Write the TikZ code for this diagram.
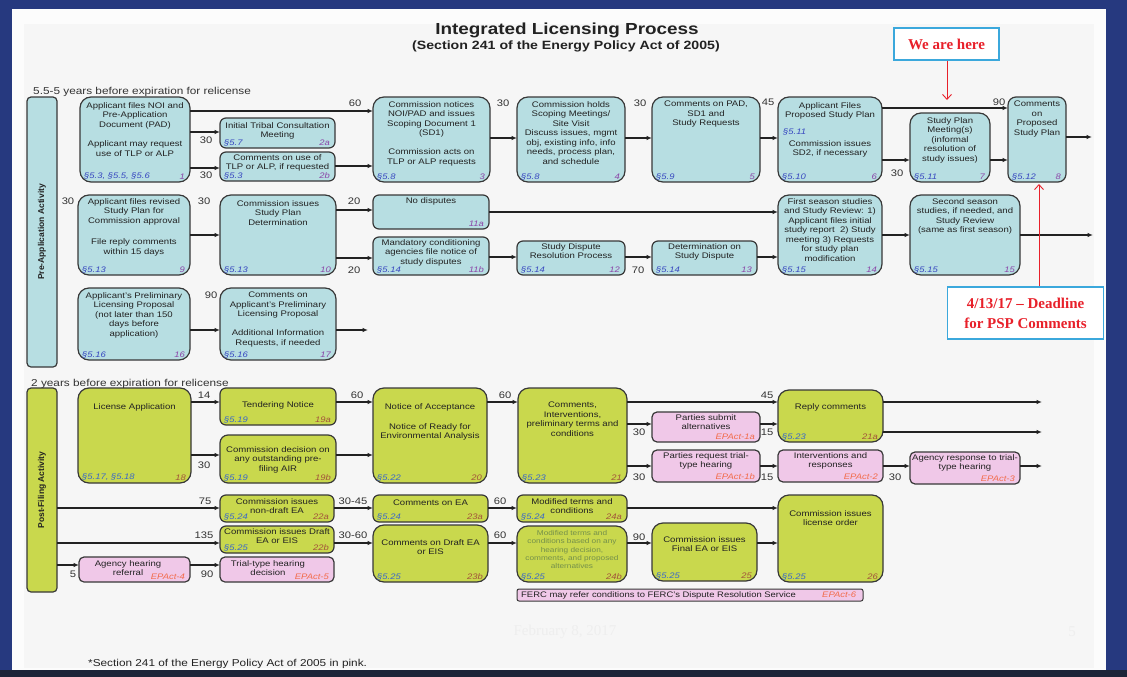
\documentclass[tikz,border=0pt]{standalone}
\usepackage{fontspec}
\setmainfont[FakeStretch=1.18]{Liberation Sans}
\newfontfamily\plainsans{Liberation Sans}
\newfontfamily\serifr{Liberation Serif}
\usetikzlibrary{arrows.meta}
\definecolor{navy}{HTML}{26397F}
\definecolor{navydark}{HTML}{1C2438}
\definecolor{panelA}{HTML}{FCFCFC}
\definecolor{panelB}{HTML}{F6F6F6}
\definecolor{boxblue}{HTML}{B7DEE2}
\definecolor{boxgreen}{HTML}{C9D84D}
\definecolor{boxpink}{HTML}{F0C8E8}
\definecolor{boxline}{HTML}{383838}
\definecolor{txtdark}{HTML}{222222}
\definecolor{refblue}{HTML}{3848C0}
\definecolor{refgreen}{HTML}{3A68C8}
\definecolor{numpurple}{HTML}{8B46A8}
\definecolor{numbrown}{HTML}{A2553A}
\definecolor{epact}{HTML}{F26B4A}
\definecolor{lblgrey}{HTML}{333333}
\definecolor{calloutred}{HTML}{E8202A}
\definecolor{calloutblue}{HTML}{3BA8DC}
\definecolor{smallgreen}{HTML}{74904A}
\definecolor{faint}{HTML}{EEEEEE}

\newcommand{\ilbox}[8]{%
  \node[#2, anchor=north west, minimum width={#5pt-#3pt}, minimum height={#6pt-#4pt}] (#1) at (#3,#4) {};
  \node[#2ref, anchor=south west] (#1-r) at ([shift={(4pt,2pt)}]#1.south west) {#7};
  \node[#2num, anchor=south east] (#1-n) at ([shift={(-5pt,2pt)}]#1.south east) {#8};
}
\newcommand{\iltext}[3]{%
  \node[btxt, anchor=north] (#1-t) at ([yshift=-#2pt]#1.north) {#3};
}

\begin{document}
\begin{tikzpicture}[x=1pt,y=-1pt,
  box/.style={draw=boxline, line width=1.2pt, inner sep=0pt, outer sep=0pt},
  bbox/.style={box, fill=boxblue, rounded corners=11pt},
  bboxm/.style={box, fill=boxblue, rounded corners=8pt},
  bboxs/.style={box, fill=boxblue, rounded corners=6pt},
  gbox/.style={box, fill=boxgreen, rounded corners=11pt},
  gboxm/.style={box, fill=boxgreen, rounded corners=8pt},
  gboxs/.style={box, fill=boxgreen, rounded corners=6pt},
  pbox/.style={box, fill=boxpink, rounded corners=5pt},
  refst/.style={inner sep=0pt, font=\fontsize{8}{9}\selectfont\itshape},
  bboxref/.style={refst, text=refblue},
  bboxmref/.style={refst, text=refblue},
  bboxsref/.style={refst, text=refblue},
  gboxref/.style={refst, text=refgreen},
  gboxmref/.style={refst, text=refgreen},
  gboxsref/.style={refst, text=refgreen},
  pboxref/.style={refst},
  bboxnum/.style={refst, text=numpurple},
  bboxmnum/.style={refst, text=numpurple},
  bboxsnum/.style={refst, text=numpurple},
  gboxnum/.style={refst, text=numbrown},
  gboxmnum/.style={refst, text=numbrown},
  gboxsnum/.style={refst, text=numbrown},
  pboxnum/.style={refst, text=epact},
  btxt/.style={inner sep=0pt, align=center, text=txtdark, font=\fontsize{8.1}{9.5}\selectfont},
  lbl/.style={inner sep=0pt, text=lblgrey, font=\fontsize{9.5}{10}\selectfont},
  arr/.style={draw=txtdark, line width=1.3pt, -{Latex[length=5.5pt,width=4.5pt]}},
  redarr/.style={draw=calloutred, line width=0.9pt, -{Straight Barb[length=5pt,width=9pt]}},
  bar/.style={box, rounded corners=4pt},
  bartxt/.style={inner sep=0pt, text=txtdark, font=\plainsans\bfseries\fontsize{8.5}{10}\selectfont},
  callout/.style={draw=calloutblue, line width=1.3pt, fill=white, text=calloutred, align=center, inner sep=0pt, font=\serifr\bfseries\fontsize{15}{20}\selectfont},
  ]
\useasboundingbox (0,0) rectangle (1127,677);
% slide background
\fill[navy] (0,0) rectangle (1127,677);
\fill[navydark] (0,670) rectangle (1127,677);
\fill[panelA] (12,9) rectangle (1106,670);
\fill[panelB] (24,24) rectangle (1094,668);

% titles
\node[anchor=base, inner sep=0pt, font=\bfseries\fontsize{16}{18}\selectfont, text=txtdark] (title) at (567,35) {Integrated Licensing Process};
\node[anchor=base, inner sep=0pt, font=\bfseries\fontsize{12}{14}\selectfont, text=txtdark] (subtitle) at (566,50) {(Section 241 of the Energy Policy Act of 2005)};
\node[anchor=base west, inner sep=0pt, font=\fontsize{10}{12}\selectfont, text=lblgrey] (sec1) at (33,94) {5.5-5 years before expiration for relicense};
\node[anchor=base west, inner sep=0pt, font=\fontsize{10}{12}\selectfont, text=lblgrey] (sec2) at (31,386) {2 years before expiration for relicense};

% vertical bars
\node[bar, fill=boxblue, anchor=north west, minimum width=30pt, minimum height=270pt] (prebar) at (27,97) {};
\node[bartxt, rotate=90] (prebar-t) at (prebar.center) {Pre-Application Activity};
\node[bar, fill=boxgreen, anchor=north west, minimum width=30pt, minimum height=204pt] (postbar) at (27,388) {};
\node[bartxt, rotate=90] (postbar-t) at (postbar.center) {Post-Filing Activity};

% ---------- Pre-application, row 1
\ilbox{b1}{bbox}{80}{97}{190}{182}{§5.3, §5.5, §5.6}{1}
\iltext{b1}{5}{Applicant files NOI and\\Pre-Application\\Document (PAD)\\[10pt]Applicant may request\\use of TLP or ALP}
\ilbox{b2a}{bboxs}{220}{118}{335}{148}{§5.7}{2a}
\iltext{b2a}{4}{Initial Tribal Consultation\\Meeting}
\ilbox{b2b}{bboxs}{220}{152}{335}{181}{§5.3}{2b}
\iltext{b2b}{2}{Comments on use of\\TLP or ALP, if requested}
\ilbox{b3}{bbox}{373}{97}{490}{182}{§5.8}{3}
\iltext{b3}{4}{Commission notices\\NOI/PAD and issues\\Scoping Document 1\\(SD1)\\[9.5pt]Commission acts on\\TLP or ALP requests}
\ilbox{b4}{bbox}{517}{97}{625}{182}{§5.8}{4}
\iltext{b4}{4}{Commission holds\\Scoping Meetings/\\Site Visit\\Discuss issues, mgmt\\obj, existing info, info\\needs, process plan,\\and schedule}
\ilbox{b5}{bbox}{652}{97}{760}{182}{§5.9}{5}
\iltext{b5}{4}{Comments on PAD,\\SD1 and\\Study Requests}
\ilbox{b6}{bbox}{778}{97}{882}{182}{§5.10}{6}
\iltext{b6}{5}{Applicant Files\\Proposed Study Plan}
\node[bboxref, anchor=west] (b6-r2) at (783,132) {§5.11};
\node[btxt, anchor=north] (b6-t2) at (830,140) {Commission issues\\SD2, if necessary};
\ilbox{b7}{bbox}{910}{113}{990}{182}{§5.11}{7}
\iltext{b7}{4}{Study Plan\\Meeting(s)\\(informal\\resolution of\\study issues)}
\ilbox{b8}{bboxm}{1008}{97}{1066}{182}{§5.12}{8}
\iltext{b8}{4}{Comments\\on\\Proposed\\Study Plan}

% ---------- Pre-application, row 2
\ilbox{b9}{bbox}{78}{195}{190}{275}{§5.13}{9}
\iltext{b9}{3}{Applicant files revised\\Study Plan for\\Commission approval\\[12pt]File reply comments\\within 15 days}
\ilbox{b10}{bbox}{220}{195}{336}{275}{§5.13}{10}
\iltext{b10}{5}{Commission issues\\Study Plan\\Determination}
\ilbox{b11a}{bboxs}{373}{195}{489}{229}{}{11a}
\iltext{b11a}{2}{No disputes}
\ilbox{b11b}{bboxs}{373}{237}{489}{275}{§5.14}{11b}
\iltext{b11b}{2}{Mandatory conditioning\\agencies file notice of\\study disputes}
\ilbox{b12}{bboxs}{517}{241}{625}{275}{§5.14}{12}
\iltext{b12}{2}{Study Dispute\\Resolution Process}
\ilbox{b13}{bboxs}{652}{241}{757}{275}{§5.14}{13}
\iltext{b13}{2}{Determination on\\Study Dispute}
\ilbox{b14}{bbox}{778}{195}{882}{275}{§5.15}{14}
\iltext{b14}{3}{First season studies\\and Study Review: 1)\\Applicant files initial\\study report~~2) Study\\meeting 3) Requests\\for study plan\\modification}
\ilbox{b15}{bbox}{910}{195}{1020}{275}{§5.15}{15}
\iltext{b15}{3}{Second season\\studies, if needed, and\\Study Review\\(same as first season)}

% ---------- Pre-application, row 3
\ilbox{b16}{bbox}{78}{288}{190}{360}{§5.16}{16}
\iltext{b16}{4}{Applicant's Preliminary\\Licensing Proposal\\(not later than 150\\days before\\application)}
\ilbox{b17}{bbox}{220}{288}{336}{360}{§5.16}{17}
\iltext{b17}{4}{Comments on\\Applicant's Preliminary\\Licensing Proposal\\[9.5pt]Additional Information\\Requests, if needed}

% ---------- Post-filing
\ilbox{b18}{gbox}{78}{388}{191}{483}{§5.17, §5.18}{18}
\iltext{b18}{15}{License Application}
\ilbox{b19a}{gboxs}{220}{388}{336}{425}{§5.19}{19a}
\iltext{b19a}{13}{Tendering Notice}
\ilbox{b19b}{gboxm}{220}{435}{336}{483}{§5.19}{19b}
\iltext{b19b}{11}{Commission decision on\\any outstanding pre-\\filing AIR}
\ilbox{b20}{gbox}{373}{388}{487}{483}{§5.22}{20}
\iltext{b20}{15}{Notice of Acceptance\\[10.5pt]Notice of Ready for\\Environmental Analysis}
\ilbox{b21}{gbox}{518}{388}{627}{483}{§5.23}{21}
\iltext{b21}{14}{Comments,\\Interventions,\\preliminary terms and\\conditions}
\ilbox{p1a}{pbox}{652}{412}{760}{442}{}{EPAct-1a}
\iltext{p1a}{2}{Parties submit\\alternatives}
\ilbox{p1b}{pbox}{652}{450}{760}{482}{}{EPAct-1b}
\iltext{p1b}{2}{Parties request trial-\\type hearing}
\ilbox{b21a}{gbox}{778}{390}{883}{442}{§5.23}{21a}
\iltext{b21a}{13}{Reply comments}
\ilbox{p2}{pbox}{778}{450}{883}{482}{}{EPAct-2}
\iltext{p2}{2}{Interventions and\\responses}
\ilbox{p3}{pbox}{910}{452}{1020}{484}{}{EPAct-3}
\iltext{p3}{2}{Agency response to trial-\\type hearing}
\ilbox{b22a}{gboxs}{220}{495}{334}{522}{§5.24}{22a}
\iltext{b22a}{3}{Commission issues\\non-draft EA}
\ilbox{b23a}{gboxs}{373}{495}{488}{522}{§5.24}{23a}
\iltext{b23a}{5}{Comments on EA}
\ilbox{b24a}{gboxs}{517}{495}{627}{522}{§5.24}{24a}
\iltext{b24a}{3}{Modified terms and\\conditions}
\ilbox{b22b}{gboxs}{220}{526}{334}{553}{§5.25}{22b}
\iltext{b22b}{2}{Commission issues Draft\\EA or EIS}
\ilbox{b23b}{gbox}{373}{525}{488}{582}{§5.25}{23b}
\iltext{b23b}{14}{Comments on Draft EA\\or EIS}
\ilbox{b24b}{gbox}{517}{526}{627}{582}{§5.25}{24b}
\node[inner sep=0pt, align=center, text=smallgreen, font=\fontsize{7}{8.4}\selectfont, anchor=north] (b24b-t) at ([yshift=-4pt]b24b.north) {Modified terms and\\conditions based on any\\hearing decision,\\comments, and proposed\\alternatives};
\ilbox{b25}{gbox}{652}{523}{757}{581}{§5.25}{25}
\iltext{b25}{13}{Commission issues\\Final EA or EIS}
\ilbox{b26}{gbox}{778}{495}{883}{582}{§5.25}{26}
\iltext{b26}{15}{Commission issues\\license order}
\ilbox{pAHR}{pbox}{79}{557}{190}{582}{}{EPAct-4}
\node[btxt, anchor=north] (pAHR-t) at (128,560) {Agency hearing\\referral};
\ilbox{pTTH}{pbox}{220}{557}{334}{582}{}{EPAct-5}
\node[btxt, anchor=north] (pTTH-t) at (268,560) {Trial-type hearing\\decision};

% FERC bar
\node[box, fill=boxpink, line width=1pt, rounded corners=2pt, anchor=north west, minimum width=346pt, minimum height=12pt] (ferc) at (517,589) {};
\node[inner sep=0pt, anchor=west, text=txtdark, font=\fontsize{8}{9}\selectfont] (ferc-t) at (521,595) {FERC may refer conditions to FERC's Dispute Resolution Service};
\node[pboxnum, anchor=west] (ferc-n) at (822,595) {EPAct-6};

% ---------- connectors
\draw[arr] (b1.east|-0,111) -- (b3.west|-0,111);
\draw[arr] (b1.east|-0,132) -- (b2a.west|-0,132);
\draw[arr] (b1.east|-0,168) -- (b2b.west|-0,168);
\draw[arr] (b2b.east|-0,166) -- (b3.west|-0,166);
\draw[arr] (b3.east|-0,138) -- (b4.west|-0,138);
\draw[arr] (b4.east|-0,138) -- (b5.west|-0,138);
\draw[arr] (b5.east|-0,138) -- (b6.west|-0,138);
\draw[arr] (b6.east|-0,108) -- (b8.west|-0,108);
\draw[arr] (b6.east|-0,160) -- (b7.west|-0,160);
\draw[arr] (b7.east|-0,160) -- (b8.west|-0,160);
\coordinate (o8) at (1092,137);
\draw[arr] (b8.east|-o8) -- (o8);

\draw[arr] (b9.east|-0,235) -- (b10.west|-0,235);
\draw[arr] (b10.east|-0,210) -- (b11a.west|-0,210);
\draw[arr] (b10.east|-0,258) -- (b11b.west|-0,258);
\draw[arr] (b11a.east|-0,212) -- (b14.west|-0,212);
\draw[arr] (b11b.east|-0,257) -- (b12.west|-0,257);
\draw[arr] (b12.east|-0,257) -- (b13.west|-0,257);
\draw[arr] (b13.east|-0,257) -- (b14.west|-0,257);
\draw[arr] (b14.east|-0,235) -- (b15.west|-0,235);
\coordinate (o15) at (1093,235);
\draw[arr] (b15.east|-o15) -- (o15);

\draw[arr] (b16.east|-0,330) -- (b17.west|-0,330);
\coordinate (o17) at (368,330);
\draw[arr] (b17.east|-o17) -- (o17);

\draw[arr] (b18.east|-0,402) -- (b19a.west|-0,402);
\draw[arr] (b18.east|-0,455) -- (b19b.west|-0,455);
\draw[arr] (b19a.east|-0,402) -- (b20.west|-0,402);
\draw[arr] (b19b.east|-0,455) -- (b20.west|-0,455);
\draw[arr] (b20.east|-0,402) -- (b21.west|-0,402);
\draw[arr] (b21.east|-0,402) -- (b21a.west|-0,402);
\draw[arr] (b21.east|-0,424) -- (p1a.west|-0,424);
\draw[arr] (p1a.east|-0,424) -- (b21a.west|-0,424);
\draw[arr] (b21.east|-0,466) -- (p1b.west|-0,466);
\draw[arr] (p1b.east|-0,466) -- (p2.west|-0,466);
\draw[arr] (p2.east|-0,466) -- (p3.west|-0,466);
\coordinate (o21a) at (1042,402);
\coordinate (o21b) at (1042,432);
\coordinate (op3) at (1042,466);
\draw[arr] (b21a.east|-o21a) -- (o21a);
\draw[arr] (b21a.east|-o21b) -- (o21b);
\draw[arr] (p3.east|-op3) -- (op3);

\draw[arr] (postbar.east|-0,508) -- (b22a.west|-0,508);
\draw[arr] (b22a.east|-0,508) -- (b23a.west|-0,508);
\draw[arr] (b23a.east|-0,508) -- (b24a.west|-0,508);
\draw[arr] (b24a.east|-0,508) -- (b26.west|-0,508);
\draw[arr] (postbar.east|-0,543) -- (b22b.west|-0,543);
\draw[arr] (b22b.east|-0,543) -- (b23b.west|-0,543);
\draw[arr] (b23b.east|-0,543) -- (b24b.west|-0,543);
\draw[arr] (b24b.east|-0,543) -- (b25.west|-0,543);
\draw[arr] (b25.east|-0,543) -- (b26.west|-0,543);
\draw[arr] (postbar.east|-0,565) -- (pAHR.west|-0,565);
\draw[arr] (pAHR.east|-0,565) -- (pTTH.west|-0,565);

% ---------- durations
\foreach \n/\x/\y/\t in {1/355/103/60, 2/206/140/30, 3/206/175/30, 4/503/103/30, 5/640/103/30,
  6/768/102/45, 7/999/102/90, 8/897/173/30, 9/68/201/30, 10/204/201/30, 11/354/201/20,
  12/354/270/20, 13/638/270/70, 14/211/295/90, 15/204/395/14, 16/204/465/30, 17/357/395/60,
  18/505/395/60, 19/767/395/45, 20/639/432/30, 21/767/432/15, 22/639/477/30, 23/767/477/15,
  24/895/477/30, 25/205/501/75, 26/353/501/30-45, 27/500/501/60, 28/204/535/135,
  29/353/535/30-60, 30/500/535/60, 31/639/537/90, 32/73/574/5, 33/207/574/90}
  \node[lbl] (L\n) at (\x,\y) {\t};

% ---------- callouts
\node[callout, minimum width=105pt, minimum height=32pt] (here) at (946.5,44) {We are here};
\coordinate (hereTip) at (947,100);
\draw[redarr] (here.south-|hereTip) -- (hereTip);
\node[callout, minimum width=156pt, minimum height=52pt] (dl) at (1025.5,313) {4/13/17 – Deadline\\for PSP Comments};
\coordinate (dlTip) at (1039,184);
\draw[redarr] (dl.north-|dlTip) -- (dlTip);

% ---------- footer
\node[anchor=base west, inner sep=0pt, text=txtdark, font=\fontsize{10}{12}\selectfont] (foot) at (88,666) {*Section 241 of the Energy Policy Act of 2005 in pink.};
\node[inner sep=0pt, text=faint, font=\serifr\fontsize{15}{18}\selectfont] (date) at (565,632) {February 8, 2017};
\node[inner sep=0pt, text=faint, font=\serifr\fontsize{15}{18}\selectfont] (page) at (1072,632) {5};
\end{tikzpicture}
\end{document}
